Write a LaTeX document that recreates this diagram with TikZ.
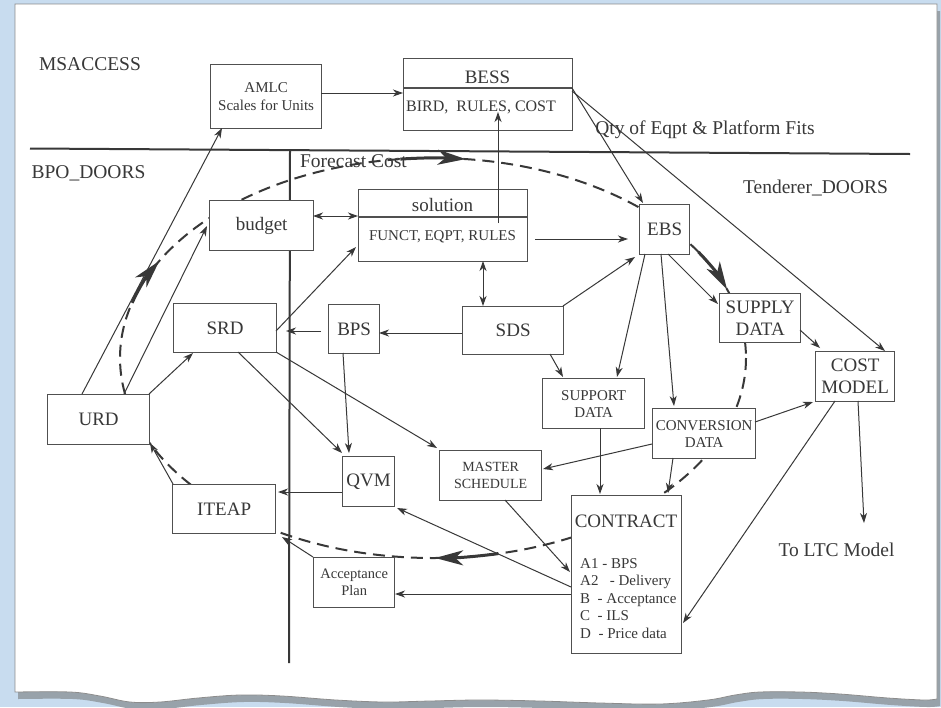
\documentclass[tikz,border=0pt]{standalone}
\usepackage{fontspec}
\setmainfont{Liberation Serif}
\usetikzlibrary{arrows.meta,calc}

\definecolor{deskblue}{HTML}{C8DCEF}
\definecolor{tearshade}{HTML}{98A2AA}
\definecolor{paperedge}{HTML}{8C8C8C}
\definecolor{ink}{HTML}{383838}
\definecolor{frame}{HTML}{505050}

\begin{document}
\begin{tikzpicture}[x=1pt,y=-1pt,
  every node/.style={text=ink,inner sep=0pt},
  box/.style={draw=frame,line width=1.3pt,fill=white,anchor=north west,align=center},
  conn/.style={draw=ink,line width=1pt,-{Stealth[length=10pt,width=7pt,inset=3pt]}},
  twoway/.style={draw=ink,line width=1pt,{Stealth[length=10pt,width=7pt,inset=3pt]}-{Stealth[length=10pt,width=7pt,inset=3pt]}},
  loopline/.style={draw=ink,line width=2pt,dash pattern=on 12pt off 7pt},
  looparrow/.style={draw=ink,line width=3pt,-{Stealth[length=28pt,width=15pt,inset=8pt]}},
  rule/.style={draw=ink,line width=2pt},
  lblfont/.style={font=\fontsize{19.5}{22}\selectfont},
  bigtext/.style={font=\fontsize{19}{22}\selectfont},
  smalltext/.style={font=\fontsize{15}{17}\selectfont},
]
\useasboundingbox (0,0) rectangle (941,707);

% desk and torn sheet
\fill[deskblue] (0,0) rectangle (941,707);
\fill[tearshade,shift={(3,7)}] (15,4) -- (937,4) -- (937,699) -- plot[smooth,tension=0.6] coordinates {(937,699) (924,700) (888,698) (840,694) (800,692) (760,692) (735,695) (708,700) (660,704) (600,703) (540,701) (480,700) (430,701) (384,702) (336,700) (282,696) (240,695) (198,698) (160,702) (130,702) (100,696) (70,692) (15,692)} -- cycle;
\filldraw[fill=white,draw=paperedge,line width=0.8pt] (15,4) -- (937,4) -- (937,699) -- plot[smooth,tension=0.6] coordinates {(937,699) (924,700) (888,698) (840,694) (800,692) (760,692) (735,695) (708,700) (660,704) (600,703) (540,701) (480,700) (430,701) (384,702) (336,700) (282,696) (240,695) (198,698) (160,702) (130,702) (100,696) (70,692) (15,692)} -- cycle;

% domain separators
\draw[rule] (30,148.5) -- (910,154);
\draw[rule] (290,150) -- (289,663);

% dashed life-cycle loop
\coordinate (hub) at (433,358);
\draw[loopline] (hub) ellipse [x radius=313, y radius=200];

% boxes
\node[box,minimum width=111pt,minimum height=64pt,font=\fontsize{15}{18}\selectfont] (amlc) at (210,64) {AMLC\\Scales for Units};
\node[box,minimum width=169pt,minimum height=72pt] (bess) at (403,58) {};
\draw[frame,line width=1.3pt] ($(bess.north west)+(0,30)$) -- ($(bess.north east)+(0,30)$);
\node[bigtext,anchor=base] (bessname) at (487.5,83) {BESS};
\node[font=\fontsize{16}{18}\selectfont,anchor=base] (bessdata) at (481,111) {BIRD,\ \ RULES, COST};

\node[box,minimum width=104pt,minimum height=50pt,bigtext] (budget) at (209,200) {budget};
\node[box,minimum width=169pt,minimum height=72pt] (solution) at (358,189) {};
\draw[frame,line width=1.3pt] ($(solution.north west)+(0,28)$) -- ($(solution.north east)+(0,28)$);
\node[bigtext,anchor=base] (solname) at (442.5,211) {solution};
\node[smalltext,anchor=base] (soldata) at (442.5,240) {FUNCT, EQPT, RULES};

\node[box,minimum width=50pt,minimum height=50pt,bigtext] (ebs) at (639,204) {EBS};
\node[box,minimum width=103pt,minimum height=49pt,bigtext] (srd) at (173,303) {SRD};
\node[box,minimum width=51pt,minimum height=49pt,bigtext] (bps) at (328,304) {BPS};
\node[box,minimum width=101pt,minimum height=48pt,bigtext] (sds) at (462,306) {SDS};
\node[box,minimum width=81pt,minimum height=49pt,bigtext] (supply) at (719,293) {SUPPLY\\DATA};
\node[box,minimum width=79pt,minimum height=50pt,bigtext] (cost) at (815,351) {COST\\MODEL};
\node[box,minimum width=102pt,minimum height=50pt,smalltext] (support) at (542,378) {SUPPORT\\DATA};
\node[box,minimum width=103pt,minimum height=50pt,smalltext] (conversion) at (652,408) {CONVERSION\\DATA};
\node[box,minimum width=102pt,minimum height=50pt,bigtext] (urd) at (47,394) {URD};
\node[box,minimum width=52pt,minimum height=50pt,bigtext] (qvm) at (342,456) {QVM};
\node[box,minimum width=102pt,minimum height=50pt,font=\fontsize{14}{17}\selectfont] (master) at (439,450) {MASTER\\SCHEDULE};
\node[box,minimum width=103pt,minimum height=49pt,bigtext] (iteap) at (172,484) {ITEAP};
\node[box,minimum width=81pt,minimum height=50pt,font=\fontsize{14.5}{17}\selectfont] (accept) at (313,557) {Acceptance\\Plan};
\node[box,minimum width=110pt,minimum height=158pt] (contract) at (571,495) {};
\node[bigtext,anchor=base] (contracttitle) at (626,527) {CONTRACT};
\node[smalltext,anchor=base west] (clauseA1) at (580,568) {A1 - BPS};
\node[smalltext,anchor=base west] (clauseA2) at (580,585.5) {A2\ \ \ - Delivery};
\node[smalltext,anchor=base west] (clauseB) at (580,603) {B\ \ - Acceptance};
\node[smalltext,anchor=base west] (clauseC) at (580,620.5) {C\ \ - ILS};
\node[smalltext,anchor=base west] (clauseD) at (580,638) {D\ \ - Price data};

% free labels
\node[lblfont,anchor=base] (msaccess) at (90,70) {MSACCESS};
\node[lblfont,anchor=base] (bpodoors) at (88.5,178) {BPO\_DOORS};
\node[lblfont,anchor=base] (tenderer) at (815.5,193) {Tenderer\_DOORS};
\node[lblfont,anchor=base] (qty) at (705,134) {Qty of Eqpt \& Platform Fits};
\node[lblfont,anchor=base] (forecast) at (353.5,167) {Forecast Cost};
\node[lblfont,anchor=base] (ltc) at (836.5,556) {To LTC Model};
\coordinate (ltcin) at (864,523);

% heavy arrowheads on the loop
\draw[looparrow] ($(hub)+({313*cos(196)},{200*sin(196)})$) arc[start angle=196,end angle=209,x radius=313,y radius=200];
\draw[looparrow] ($(hub)+({313*cos(264)},{200*sin(264)})$) arc[start angle=264,end angle=276,x radius=313,y radius=200];
\draw[looparrow] ($(hub)+({313*cos(328)},{200*sin(328)})$) arc[start angle=328,end angle=340,x radius=313,y radius=200];
\draw[looparrow] ($(hub)+({313*cos(78)},{200*sin(78)})$) arc[start angle=78,end angle=89.6,x radius=313,y radius=200];

% data flows
\draw[conn] ($(amlc.north west)+(111,29)$) -- ($(bess.north west)+(0,35)$);
\draw[conn] ($(bess.north west)+(169,30)$) -- ($(ebs.north west)+(4,-1)$);
\draw[conn] ($(bess.north west)+(169,33)$) -- ($(cost.north west)+(70,0)$);
\draw[conn] ($(solution.north west)+(140,34)$) -- ($(bess.north west)+(95,54)$);
\draw[twoway] ($(budget.north west)+(104,16)$) -- ($(solution.north west)+(0,27)$);
\draw[conn] ($(solution.north west)+(177,50)$) -- ($(ebs.north west)+(-11,35)$);
\draw[twoway] ($(solution.north west)+(125,72)$) -- ($(sds.north west)+(21,0)$);
\draw[conn] ($(sds.north west)+(101,0)$) -- ($(ebs.north west)+(-4,53)$);
\draw[conn] ($(sds.north west)+(0,27)$) -- ($(bps.north west)+(51,29)$);
\draw[conn] ($(bps.north west)+(-7,27)$) -- ($(srd.north west)+(113,28)$);
\draw[conn] ($(srd.north west)+(103,28)$) -- ($(solution.north west)+(-2,58)$);
\draw[conn] ($(srd.north west)+(65,49)$) -- ($(qvm.north west)+(0,-3)$);
\draw[conn] ($(srd.north west)+(103,49)$) -- ($(master.north west)+(-2,-2)$);
\draw[conn] ($(bps.north west)+(15,49)$) -- ($(qvm.north west)+(7,-3)$);
\draw[conn] ($(urd.north west)+(102,0)$) -- ($(srd.north west)+(20,50)$);
\draw[conn] ($(urd.north west)+(35,0)$) -- ($(amlc.north west)+(12,64)$);
\draw[conn] ($(urd.north west)+(77,0)$) -- ($(budget.north west)+(-2,26)$);
\draw[conn] ($(qvm.north west)+(0,36)$) -- ($(iteap.north west)+(106,8)$);
\draw[conn] ($(contract.north west)+(0,92)$) -- ($(qvm.north west)+(55,52)$);
\draw[conn] ($(contract.north west)+(0,99)$) -- ($(accept.north west)+(82,37)$);
\draw[conn] (accept.north west) -- ($(iteap.north west)+(110,53)$);
\draw[conn] ($(master.north west)+(66,50)$) -- ($(contract.north west)+(-1,77)$);
\draw[conn] ($(support.north west)+(58,50)$) -- ($(contract.north west)+(29,-1)$);
\draw[conn] ($(conversion.north west)+(21,50)$) -- ($(contract.north west)+(97,-2)$);
\draw[conn] ($(conversion.north west)+(0,36)$) -- ($(master.north west)+(104,19)$);
\draw[conn] ($(conversion.north west)+(103,14)$) -- ($(cost.north west)+(-2,51)$);
\draw[conn] ($(supply.north west)+(81,37)$) -- ($(cost.north west)+(5,-3)$);
\draw[conn] ($(ebs.north west)+(29,50)$) -- ($(supply.north west)+(-1,11)$);
\draw[conn] ($(ebs.north west)+(6,50)$) -- ($(support.north west)+(75,-1)$);
\draw[conn] ($(ebs.north west)+(22,50)$) -- ($(conversion.north west)+(22,-2)$);
\draw[conn] ($(sds.north west)+(88,48)$) -- ($(support.north west)+(21,-1)$);
\draw[conn] ($(cost.north west)+(20,50)$) -- ($(contract.north west)+(112,128)$);
\draw[conn] ($(cost.north west)+(43,50)$) -- (ltcin);
\draw[conn] ($(iteap.north west)+(1,0)$) -- ($(urd.north west)+(103,49)$);
\end{tikzpicture}
\end{document}
